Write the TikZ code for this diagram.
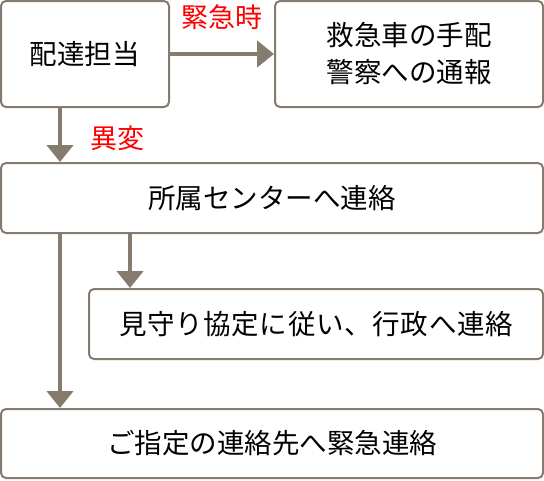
\documentclass[tikz,border=0pt]{standalone}
\usepackage{fontspec}
\setmainfont{Noto Sans CJK JP}
\newfontfamily\jpwide[LetterSpace=2.5]{Noto Sans CJK JP}
\usetikzlibrary{arrows.meta}
\definecolor{edge}{HTML}{857B6F}
\definecolor{lab}{HTML}{FF0000}
\tikzset{
  box/.style={draw=edge, line width=2pt, rounded corners=5pt, fill=white,
    inner sep=0pt, align=center, font=\fontsize{27.5}{37}\selectfont},
  arr/.style={draw=edge, line width=4.5pt,
    -{Triangle[length=17pt,width=26pt]}},
  lbl/.style={text=lab, inner sep=0pt, font=\fontsize{27}{32}\selectfont}
}
\begin{document}
\begin{tikzpicture}[x=1pt,y=-1pt]
\useasboundingbox (0,0) rectangle (544,480);
\node[box, minimum width=168pt, minimum height=106pt] (b1) at (85,54) {配達担当};
\node[box, minimum width=268pt, minimum height=106pt] (b2) at (409,54) {救急車の手配\\警察への通報};
\node[box, minimum width=542pt, minimum height=70pt] (b3) at (272,198) {所属センターへ連絡};
\node[box, minimum width=454pt, minimum height=70pt] (b4) at (316,324) {\jpwide 見守り協定に従い、行政へ連絡};
\node[box, minimum width=542pt, minimum height=69pt] (b5) at (272,443.5) {ご指定の連絡先へ緊急連絡};
\coordinate (xa) at (60,0);
\coordinate (xb) at (130,0);
\draw[arr] (b1.east) -- (b2.west);
\draw[arr] (xa |- b1.south) -- (xa |- b3.north);
\draw[arr] (xa |- b3.south) -- (xa |- b5.north);
\draw[arr] (xb |- b3.south) -- (xb |- b4.north);
\node[lbl] (l1) at (222,17) {緊急時};
\node[lbl] (l2) at (117,138) {異変};
\end{tikzpicture}
\end{document}
